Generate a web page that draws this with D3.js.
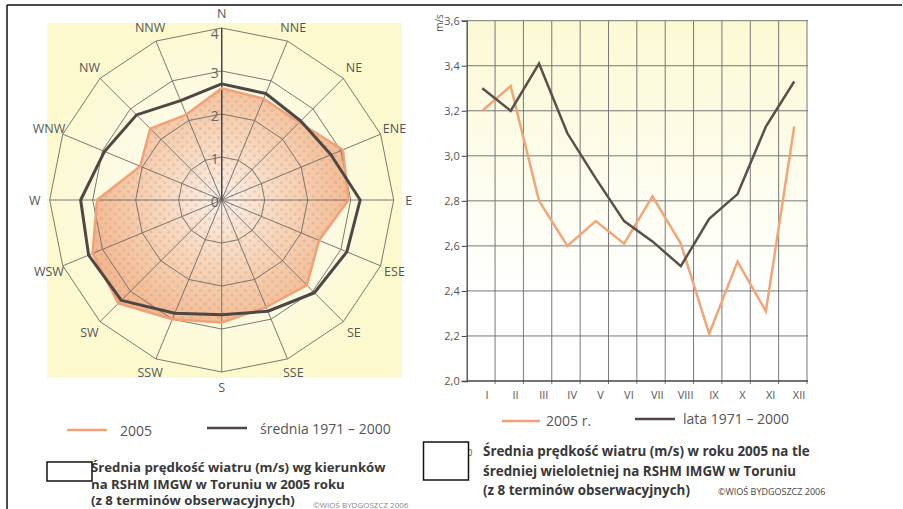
<!DOCTYPE html>
<html>
<head>
<meta charset="utf-8">
<script src="https://cdn.jsdelivr.net/npm/d3@7"></script>
<style>
  body { margin: 0; background: #fff; }
  svg { display: block; font-family: "Open Sans", "DejaVu Sans", sans-serif; }
</style>
</head>
<body>
<div id="chart"></div>
<script>
// wind rose data (m/s)
var directions = ["N", "NNE", "NE", "ENE", "E", "ESE", "SE", "SSE", "S", "SSW", "SW", "WSW", "W", "WNW", "NW", "NNW"];
var rose2005 = [2.6, 2.55, 2.55, 3.05, 2.95, 2.45, 2.8, 2.7, 2.85, 3.0, 3.4, 3.25, 2.9, 2.05, 2.35, 2.15];
var roseMean = [2.7, 2.68, 2.6, 2.75, 3.22, 3.15, 3.05, 2.8, 2.67, 2.85, 3.3, 3.35, 3.28, 2.95, 2.8, 2.5];
var roseTicks = [0, 1, 2, 3, 4];

// monthly data (m/s)
var months = ["I", "II", "III", "IV", "V", "VI", "VII", "VIII", "IX", "X", "XI", "XII"];
var month2005 = [3.2, 3.31, 2.8, 2.6, 2.71, 2.61, 2.82, 2.61, 2.21, 2.53, 2.31, 3.13];
var monthMean = [3.3, 3.2, 3.41, 3.1, 2.9, 2.71, 2.62, 2.51, 2.72, 2.83, 3.13, 3.33];
var yTicks = [2.0, 2.2, 2.4, 2.6, 2.8, 3.0, 3.2, 3.4, 3.6];

var orange = "#f2a077";
var dark = "#4f4743";
var grey = "#555";

var svg = d3.select("#chart").append("svg")
  .attr("width", 903)
  .attr("height", 509);

var defs = svg.append("defs");

// gradients / pattern
var rg = defs.append("radialGradient").attr("id", "roseBg");
rg.append("stop").attr("offset", "0%").attr("stop-color", "#ffffff");
rg.append("stop").attr("offset", "55%").attr("stop-color", "#fdfbe6");
rg.append("stop").attr("offset", "100%").attr("stop-color", "#fcf9d2");

var og = defs.append("radialGradient").attr("id", "orangeFill")
  .attr("gradientUnits", "userSpaceOnUse")
  .attr("cx", 221.7).attr("cy", 200).attr("r", 150);
og.append("stop").attr("offset", "0%").attr("stop-color", "#fbf0e8");
og.append("stop").attr("offset", "45%").attr("stop-color", "#f7d4b7");
og.append("stop").attr("offset", "100%").attr("stop-color", "#f2b286");

var dots = defs.append("pattern").attr("id", "dots")
  .attr("patternUnits", "userSpaceOnUse")
  .attr("width", 9).attr("height", 9);
dots.append("circle").attr("cx", 2.5).attr("cy", 2.5).attr("r", 1.6).attr("fill", "rgba(170,140,140,0.25)");
dots.append("circle").attr("cx", 7).attr("cy", 7).attr("r", 1.6).attr("fill", "rgba(170,140,140,0.25)");

var lg = defs.append("linearGradient").attr("id", "lineBg")
  .attr("x1", 0).attr("y1", 0).attr("x2", 0).attr("y2", 1);
lg.append("stop").attr("offset", "0%").attr("stop-color", "#fbf9d3");
lg.append("stop").attr("offset", "35%").attr("stop-color", "#fdfce8");
lg.append("stop").attr("offset", "75%").attr("stop-color", "#ffffff");

// page frame
svg.append("line").attr("x1", 7).attr("x2", 902).attr("y1", 5).attr("y2", 5)
  .attr("stroke", "#111").attr("stroke-width", 1.5);
svg.append("line").attr("x1", 7).attr("x2", 7).attr("y1", 5).attr("y2", 509)
  .attr("stroke", "#111").attr("stroke-width", 1.5);

// ---------------- wind rose ----------------
var cx = 221.7, cy = 200;
var rScale = d3.scaleLinear().domain([0, 4]).range([0, 172]);
var angle = d3.scalePoint().domain(directions).range([0, 2 * Math.PI * 15 / 16]);

function pt(dir, v) {
  var a = angle(dir);
  return [cx + rScale(v) * Math.sin(a), cy - rScale(v) * Math.cos(a)];
}

svg.append("rect").attr("x", 47).attr("y", 23).attr("width", 355).attr("height", 355)
  .attr("fill", "#fcf9cf");

var rose = svg.append("g");

rose.append("polygon")
  .attr("points", directions.map(d => pt(d, 4)).join(" "))
  .attr("fill", "url(#roseBg)");

// 2005 area
var area2005 = directions.map((d, i) => pt(d, rose2005[i])).join(" ");
rose.append("polygon").attr("points", area2005).attr("fill", "url(#orangeFill)");
rose.append("polygon").attr("points", area2005).attr("fill", "url(#dots)");

// rings
rose.selectAll(".ring")
  .data(roseTicks.slice(1))
  .enter()
  .append("polygon")
  .attr("points", v => directions.map(d => pt(d, v)).join(" "))
  .attr("fill", "none")
  .attr("stroke", "#6e6a66")
  .attr("stroke-width", 0.9);

// spokes
rose.selectAll(".spoke")
  .data(directions)
  .enter()
  .append("line")
  .attr("x1", cx).attr("y1", cy)
  .attr("x2", d => pt(d, 4)[0])
  .attr("y2", d => pt(d, 4)[1])
  .attr("stroke", "#6e6a66")
  .attr("stroke-width", 0.9);
// N spoke darker
rose.append("line")
  .attr("x1", cx).attr("y1", cy).attr("x2", cx).attr("y2", cy - rScale(4))
  .attr("stroke", "#444").attr("stroke-width", 1.4);

// 2005 outline
rose.append("polygon").attr("points", area2005)
  .attr("fill", "none").attr("stroke", orange).attr("stroke-width", 2.5)
  .attr("stroke-linejoin", "round");

// mean line
rose.append("polygon")
  .attr("points", directions.map((d, i) => pt(d, roseMean[i])).join(" "))
  .attr("fill", "none").attr("stroke", dark).attr("stroke-width", 3)
  .attr("stroke-linejoin", "round");

// tick labels
rose.selectAll(".rtick")
  .data(roseTicks)
  .enter()
  .append("text")
  .attr("x", cx - 3)
  .attr("y", v => cy - rScale(v) + (v === 4 ? 5 : 1))
  .attr("text-anchor", "end")
  .attr("dominant-baseline", "central")
  .attr("font-size", "14px")
  .attr("fill", "#666")
  .text(v => v);

// direction labels
rose.selectAll(".dlab")
  .data(directions)
  .enter()
  .append("text")
  .attr("x", d => cx + 187 * Math.sin(angle(d)))
  .attr("y", d => cy - 187 * Math.cos(angle(d)))
  .attr("text-anchor", "middle")
  .attr("dominant-baseline", "central")
  .attr("font-size", "12.5px")
  .attr("fill", grey)
  .text(d => d);

// legend left
svg.append("line").attr("x1", 67).attr("x2", 107).attr("y1", 430).attr("y2", 430)
  .attr("stroke", orange).attr("stroke-width", 2.5);
svg.append("text").attr("x", 120).attr("y", 430).attr("dominant-baseline", "central")
  .attr("font-size", "14px").attr("fill", "#555").text("2005");
svg.append("line").attr("x1", 207).attr("x2", 247).attr("y1", 428).attr("y2", 428)
  .attr("stroke", dark).attr("stroke-width", 2.5);
svg.append("text").attr("x", 260).attr("y", 428).attr("dominant-baseline", "central")
  .attr("font-size", "14px").attr("fill", "#555").text("średnia 1971 – 2000");

// ---------------- monthly line chart ----------------
var plotL = 466.7, plotR = 807, plotT = 20.7, plotB = 381;

var x = d3.scaleBand().domain(months).range([plotL, plotR]);
var y = d3.scaleLinear().domain([2.0, 3.6]).range([plotB, plotT]);

var lc = svg.append("g");

lc.append("rect").attr("x", plotL).attr("y", plotT)
  .attr("width", plotR - plotL).attr("height", plotB - plotT)
  .attr("fill", "url(#lineBg)");

// horizontal grid
lc.selectAll(".hg")
  .data(yTicks.slice(1))
  .enter()
  .append("line")
  .attr("x1", plotL).attr("x2", plotR + 1)
  .attr("y1", d => y(d)).attr("y2", d => y(d))
  .attr("stroke", "#777").attr("stroke-width", 1);

// vertical grid
lc.selectAll(".vg")
  .data(months)
  .enter()
  .append("line")
  .attr("x1", d => x(d) + x.bandwidth()).attr("x2", d => x(d) + x.bandwidth())
  .attr("y1", plotT).attr("y2", plotB + 3)
  .attr("stroke", "#777").attr("stroke-width", 1);

// axes
var yAxis = d3.axisLeft(y).tickValues(yTicks).tickSize(5).tickPadding(2)
  .tickFormat(d => d3.format(".1f")(d).replace(".", ","));
var gy = lc.append("g").attr("transform", `translate(${plotL},0)`).call(yAxis);
gy.select(".domain").attr("stroke", "#444").attr("stroke-width", 1.3);
gy.selectAll(".tick line").attr("stroke", "#444");
gy.selectAll(".tick text").attr("fill", grey).attr("font-size", "11px")
  .attr("font-family", "Open Sans, sans-serif");

lc.append("line").attr("x1", plotL).attr("x2", plotR + 1).attr("y1", plotB).attr("y2", plotB)
  .attr("stroke", "#444").attr("stroke-width", 1.3);

lc.selectAll(".mlab")
  .data(months)
  .enter()
  .append("text")
  .attr("x", d => x(d) + x.bandwidth() * 0.72)
  .attr("y", 394)
  .attr("text-anchor", "middle")
  .attr("dominant-baseline", "central")
  .attr("font-size", "11px")
  .attr("fill", grey)
  .text(d => d);

lc.append("text")
  .attr("transform", "translate(439,23) rotate(-90)")
  .attr("text-anchor", "middle")
  .attr("dominant-baseline", "central")
  .attr("font-size", "10px")
  .attr("fill", grey)
  .text("m/s");

var line = d3.line()
  .x((d, i) => x(months[i]) + x.bandwidth() * 0.55)
  .y(d => y(d));

lc.append("path").datum(month2005).attr("d", line)
  .attr("fill", "none").attr("stroke", "#f3a578").attr("stroke-width", 2.5);
lc.append("path").datum(monthMean).attr("d", line)
  .attr("fill", "none").attr("stroke", "#5a504b").attr("stroke-width", 2.5);

// legend right
svg.append("line").attr("x1", 502).attr("x2", 540).attr("y1", 421).attr("y2", 421)
  .attr("stroke", orange).attr("stroke-width", 2.5);
svg.append("text").attr("x", 546).attr("y", 420).attr("dominant-baseline", "central")
  .attr("font-size", "14px").attr("fill", "#555").text("2005 r.");
svg.append("line").attr("x1", 635).attr("x2", 675).attr("y1", 419).attr("y2", 419)
  .attr("stroke", dark).attr("stroke-width", 2.5);
svg.append("text").attr("x", 683).attr("y", 418).attr("dominant-baseline", "central")
  .attr("font-size", "14px").attr("fill", "#555").text("lata 1971 – 2000");

// ---------------- captions ----------------
var capLeft = ["Średnia prędkość wiatru (m/s) wg kierunków", "na RSHM IMGW w Toruniu w 2005 roku", "(z 8 terminów obserwacyjnych)"];
var capRight = ["Średnia prędkość wiatru (m/s) w roku 2005 na tle", "średniej wieloletniej na RSHM IMGW w Toruniu", "(z 8 terminów obserwacyjnych)"];

svg.append("g").selectAll("text")
  .data(capLeft)
  .enter()
  .append("text")
  .attr("x", 91)
  .attr("y", (d, i) => 472 + i * 16.5)
  .attr("font-size", "13.2px")
  .attr("font-weight", "bold")
  .attr("fill", "#383838")
  .text(d => d);

svg.append("text").attr("x", 462).attr("y", 456).attr("font-size", "9px")
  .attr("fill", "#555").text("20");

svg.append("g").selectAll("text")
  .data(capRight)
  .enter()
  .append("text")
  .attr("x", 483)
  .attr("y", (d, i) => 456 + i * 19.5)
  .attr("font-size", "13.4px")
  .attr("font-weight", "bold")
  .attr("fill", "#383838")
  .text(d => d);

svg.append("text").attr("x", 718).attr("y", 495).attr("font-size", "9px")
  .attr("fill", "#444").text("©WIOŚ BYDGOSZCZ 2006");
svg.append("text").attr("x", 313).attr("y", 508).attr("font-size", "8px")
  .attr("fill", "#888").text("©WIOŚ BYDGOSZCZ 2006");

// blank boxes over figure numbers
svg.append("rect").attr("x", 47).attr("y", 462).attr("width", 45).attr("height", 19)
  .attr("fill", "#fff").attr("stroke", "#111").attr("stroke-width", 1.5);
svg.append("rect").attr("x", 423.5).attr("y", 442).attr("width", 45).attr("height", 38)
  .attr("fill", "#fff").attr("stroke", "#111").attr("stroke-width", 1.5);
</script>
</body>
</html>
